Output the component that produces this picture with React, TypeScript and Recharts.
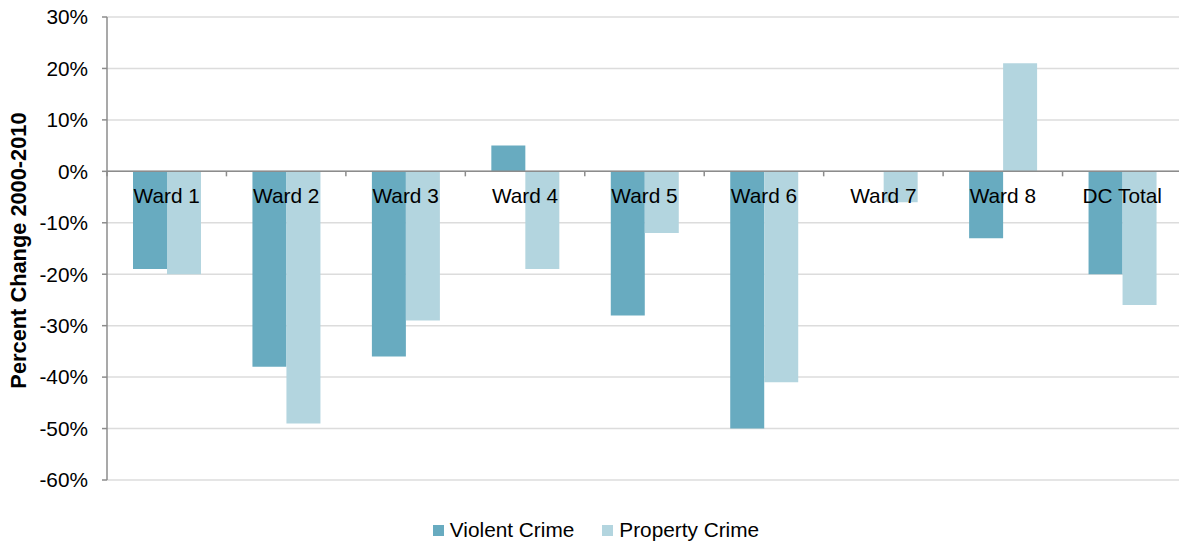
import { BarChart, Bar, XAxis, YAxis, CartesianGrid, ReferenceLine, Legend } from "recharts";

const wards = ["Ward 1", "Ward 2", "Ward 3", "Ward 4", "Ward 5", "Ward 6", "Ward 7", "Ward 8", "DC Total"];
const violentCrime = [-19, -38, -36, 5, -28, -50, 0, -13, -20];
const propertyCrime = [-20, -49, -29, -19, -12, -41, -6, 21, -26];
const yTicks = [-60, -50, -40, -30, -20, -10, 0, 10, 20, 30];

const data = wards.map((name, i) => ({
  name,
  violent: violentCrime[i],
  property: propertyCrime[i]
}));

const WIDTH = 1186;
const HEIGHT = 544;
const TOP = 17;
const PLOT_BOTTOM = 480;
const PLOT_LEFT = 107;
const PLOT_RIGHT = 1182;
const Y_MIN = -60;
const Y_MAX = 30;
const FONT = "'Liberation Sans', Arial, sans-serif";

const zeroY = TOP + (PLOT_BOTTOM - TOP) * (Y_MAX / (Y_MAX - Y_MIN));
const band = (PLOT_RIGHT - PLOT_LEFT) / wards.length;

const VIOLENT = "#68abc0";
const PROPERTY = "#b3d5df";

const CategoryTick = (props: any) => {
  const { x, payload } = props;
  return (
    <g>
      <line x1={x - band / 2} x2={x - band / 2} y1={zeroY} y2={zeroY + 5} stroke="#8c8c8c" strokeWidth={1.5}/>
      <text x={x} y={zeroY + 32} textAnchor="middle" fontSize={20.8} fontFamily={FONT} fill="#000">
        {payload.value}
      </text>
    </g>
  );
};

const AxisTitle = (props: any) => {
  const { viewBox } = props;
  const cy = viewBox.y + viewBox.height / 2 + 2;
  return (
    <text
      x={18}
      y={cy}
      transform={`rotate(-90, 18, ${cy})`}
      textAnchor="middle"
      dominantBaseline="central"
      fontSize={21.8}
      fontWeight="bold"
      fontFamily={FONT}
      fill="#000"
    >
      Percent Change 2000-2010
    </text>
  );
};

const LegendContent = () => {
  const items = [
    { label: "Violent Crime", color: VIOLENT },
    { label: "Property Crime", color: PROPERTY }
  ];
  return (
    <div style={{ height: 28, paddingLeft: 10, display: "flex", justifyContent: "center", alignItems: "center", fontFamily: FONT, fontSize: 20.8, color: "#000" }}>
      {items.map((item, i) => (
        <span key={item.label} style={{ display: "flex", alignItems: "center", marginRight: i === 0 ? 28 : 0 }}>
          <span style={{ width: 11, height: 11, background: item.color, display: "inline-block", marginRight: 6 }}/>
          {item.label}
        </span>
      ))}
    </div>
  );
};

export default function App() {
  return (
    <div style={{ position: "absolute", left: 0, top: 0, width: 1179, height: HEIGHT, overflow: "hidden", background: "#fff" }}>
      <BarChart
        width={WIDTH}
        height={HEIGHT}
        data={data}
        margin={{ top: TOP, right: WIDTH - PLOT_RIGHT, bottom: 0, left: 0 }}
        barGap={0}
        barSize={34}
      >
        <CartesianGrid vertical={false} stroke="#dcdcdc" strokeWidth={1.5}/>
        <YAxis
          width={PLOT_LEFT}
          domain={[Y_MIN, Y_MAX]}
          ticks={yTicks}
          tickFormatter={(v: number) => `${v}%`}
          axisLine={{ stroke: "#8c8c8c", strokeWidth: 1.5 }}
          tickLine={{ stroke: "#8c8c8c", strokeWidth: 1.5 }}
          tickSize={5}
          tickMargin={14}
          tick={{ fill: "#000", fontSize: 20.8, fontFamily: FONT }}
          interval={0}
          label={<AxisTitle/>}
        />
        <Bar dataKey="violent" name="Violent Crime" fill={VIOLENT} isAnimationActive={false}/>
        <Bar dataKey="property" name="Property Crime" fill={PROPERTY} isAnimationActive={false}/>
        <ReferenceLine y={0} stroke="#8c8c8c" strokeWidth={1.5}/>
        <XAxis
          dataKey="name"
          height={36}
          axisLine={false}
          tickLine={false}
          interval={0}
          tick={<CategoryTick/>}
        />
        <Legend verticalAlign="bottom" content={<LegendContent/>}/>
      </BarChart>
    </div>
  );
}
